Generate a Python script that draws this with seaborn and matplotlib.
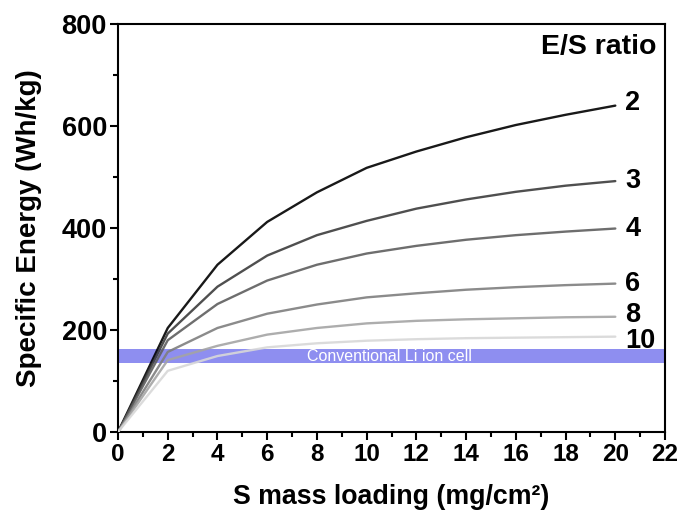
import numpy as np
import pandas as pd
import matplotlib
matplotlib.use("Agg")
import matplotlib.pyplot as plt
import seaborn as sns
from matplotlib.ticker import MultipleLocator

loading = [0, 2, 4, 6, 8, 10, 12, 14, 16, 18, 20]
es_ratios = ["2", "3", "4", "6", "8", "10"]
energy_2 = [0, 204, 328, 412, 470, 518, 550, 578, 602, 622, 640]
energy_3 = [0, 193, 285, 346, 386, 414, 438, 456, 471, 483, 492]
energy_4 = [0, 180, 251, 297, 328, 350, 365, 377, 386, 393, 399]
energy_6 = [0, 157, 204, 232, 250, 264, 272, 279, 284, 288, 291]
energy_8 = [0, 141, 169, 191, 204, 213, 218, 221, 223, 225, 226]
energy_10 = [0, 120, 149, 166, 174, 179, 182, 184, 185, 186, 187]
band_low, band_high = 135, 163
band_label = "Conventional Li ion cell"

series = [energy_2, energy_3, energy_4, energy_6, energy_8, energy_10]
df = pd.DataFrame({
    "x": np.tile(loading, len(es_ratios)),
    "y": np.concatenate(series),
    "ratio": np.repeat(es_ratios, len(loading)),
})

sns.set_style("ticks")
plt.rcParams["font.family"] = ["Liberation Sans", "DejaVu Sans"]
plt.rcParams["font.weight"] = "bold"
plt.rcParams["text.color"] = "black"
plt.rcParams["axes.labelcolor"] = "black"
plt.rcParams["xtick.color"] = "black"
plt.rcParams["ytick.color"] = "black"
plt.rcParams["axes.edgecolor"] = "black"

fig = plt.figure(figsize=(6.83, 5.2), dpi=100)
ax = fig.add_axes([0.1728, 0.1692, 0.8009, 0.7846])

ax.axhspan(band_low, band_high, color="#8e8ef0", zorder=1, lw=0)
ax.text(10.9, (band_low + band_high) / 2 - 1, band_label, color="white",
        fontsize=11.5, fontweight="normal", ha="center", va="center", zorder=2)

palette = {"2": "#000000", "3": "#3c3c3c", "4": "#5e5e5e",
           "6": "#7e7e7e", "8": "#a4a4a4", "10": "#d8d8d8"}
sns.lineplot(data=df, x="x", y="y", hue="ratio", palette=palette,
             hue_order=es_ratios, lw=1.7, alpha=0.9, legend=False, ax=ax, zorder=3)

label_offsets = {"2": 6, "3": 0, "4": 0, "6": 0, "8": 3, "10": -8}
for r, s in zip(es_ratios, series):
    ax.text(20.4, s[-1] + label_offsets[r], r, fontsize=19.5, fontweight="bold",
            ha="left", va="center")
ax.text(21.65, 754, "E/S ratio", fontsize=20.5, fontweight="bold",
        ha="right", va="center")

ax.set_xlim(0, 22)
ax.set_ylim(0, 800)
ax.xaxis.set_major_locator(MultipleLocator(2))
ax.xaxis.set_minor_locator(MultipleLocator(1))
ax.yaxis.set_major_locator(MultipleLocator(200))
ax.yaxis.set_minor_locator(MultipleLocator(100))
ax.tick_params(axis="both", which="major", direction="out", length=6, width=1.5, pad=2)
ax.tick_params(axis="x", which="major", labelsize=17.5)
ax.tick_params(axis="y", which="major", labelsize=19.5)
ax.tick_params(axis="both", which="minor", direction="out", length=3.5, width=1.5)
for lab in ax.get_xticklabels() + ax.get_yticklabels():
    lab.set_fontweight("bold")
for sp in ax.spines.values():
    sp.set_linewidth(1.5)
    sp.set_visible(True)

ax.set_xlabel("S mass loading (mg/cm²)", fontsize=19.3, fontweight="bold", labelpad=13)
ax.set_ylabel("Specific Energy (Wh/kg)", fontsize=20, fontweight="bold", labelpad=14)

fig.savefig("out.png", dpi=100)
